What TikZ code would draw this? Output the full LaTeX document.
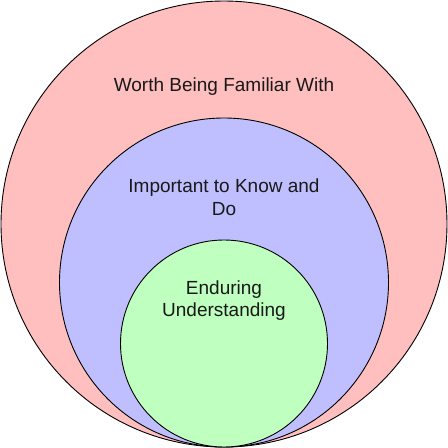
\documentclass[tikz,border=0pt]{standalone}
\usepackage{fontspec}
\setmainfont{Liberation Sans}
\definecolor{outerfill}{HTML}{FFBFBF}
\definecolor{midfill}{HTML}{BFBFFF}
\definecolor{innerfill}{HTML}{BFFFBF}
\begin{document}
\begin{tikzpicture}[x=1pt,y=-1pt,
  ring/.style={draw=black,line width=0.9pt},
  label/.style={align=center,font=\fontsize{19}{22.5}\selectfont,text=black!90,inner sep=0pt}]
\useasboundingbox (0,0) rectangle (448,448);
% nested circles, all touching at the bottom
\fill[outerfill] (224,224) circle (223);
\draw[ring] (224,224) circle (223);
\fill[midfill] (224,282.5) circle (164.5);
\draw[ring] (224,282.5) circle (164.5);
\fill[innerfill] (224,343.5) circle (103.5);
\draw[ring] (224,343.5) circle (103.5);
% labels
\node[label] (worth) at (224,87) {Worth Being Familiar With};
\node[label] (important) at (224,197) {Important to Know and\\Do};
\node[label] (enduring) at (224,300.5) {Enduring\\Understanding};
\end{tikzpicture}
\end{document}
